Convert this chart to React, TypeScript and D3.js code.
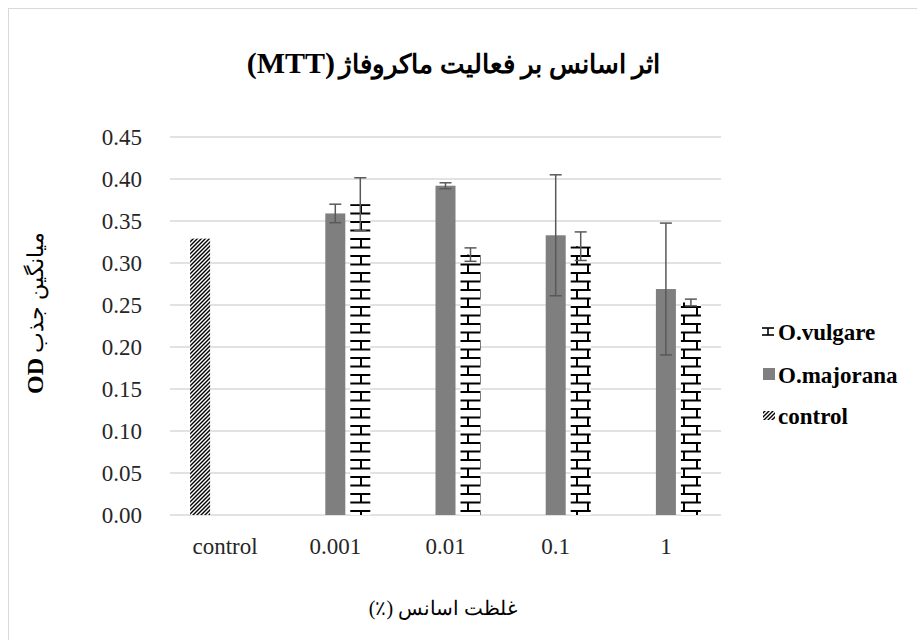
import React from "react";
import * as d3 from "d3";

const categories = ["control", "0.001", "0.01", "0.1", "1"];
const seriesNames = ["control", "O.majorana", "O.vulgare"];
const controlValues = [0.329, 0, 0, 0, 0];
const majoranaValues = [0, 0.359, 0.392, 0.333, 0.269];
const majoranaErrors = [0, 0.011, 0.0035, 0.072, 0.0785];
const vulgareValues = [0, 0.370, 0.310, 0.320, 0.253];
const vulgareErrors = [0, 0.0315, 0.008, 0.017, 0.004];
const yTicks = [0, 0.05, 0.1, 0.15, 0.2, 0.25, 0.3, 0.35, 0.4, 0.45];
const legendItems = ["O.vulgare", "O.majorana", "control"];

const W = 917;
const H = 640;
const plotLeft = 170;
const plotRight = 721;
const plotTop = 137;
const plotBottom = 515;
const serif = "'Liberation Serif', 'Times New Roman', serif";

export default function App() {
  const x = d3.scaleBand<string>().domain(categories).range([plotLeft, plotRight]).paddingInner(0).paddingOuter(0);
  const groupW = 75;
  const inner = d3
    .scaleBand<string>()
    .domain(seriesNames)
    .range([-groupW / 2, groupW / 2])
    .paddingInner(0.2)
    .paddingOuter(0.1);
  const y = d3.scaleLinear().domain([0, 0.45]).range([plotBottom, plotTop]);
  const fmt = d3.format(".2f");
  const bw = inner.bandwidth();

  const fills: Record<string, string> = {
    control: "url(#hatch)",
    "O.majorana": "#7f7f7f",
    "O.vulgare": "url(#brick)",
  };
  const valuesBy: Record<string, number[]> = {
    control: controlValues,
    "O.majorana": majoranaValues,
    "O.vulgare": vulgareValues,
  };
  const errorsBy: Record<string, number[] | null> = {
    control: null,
    "O.majorana": majoranaErrors,
    "O.vulgare": vulgareErrors,
  };

  const cx = (c: string) => (x(c) as number) + x.bandwidth() / 2;

  return (
    <svg width={W} height={H} style={{ position: "absolute", left: 0, top: 0, background: "#fff" }}>
      <defs>
        <pattern id="brick" patternUnits="userSpaceOnUse" width={24} height={17}>
          <rect width={24} height={17} fill="#fff" />
          <line x1={0} y1={1} x2={24} y2={1} stroke="#000" strokeWidth={2} />
          <line x1={0} y1={9.5} x2={24} y2={9.5} stroke="#000" strokeWidth={2} />
          <line x1={1} y1={1} x2={1} y2={9.5} stroke="#000" strokeWidth={2} />
          <line x1={12} y1={9.5} x2={12} y2={17} stroke="#000" strokeWidth={2} />
        </pattern>
        <pattern id="hatch" patternUnits="userSpaceOnUse" width={4} height={4}>
          <rect width={4} height={4} fill="#fff" />
          <path d="M-1,1 L1,-1 M0,4 L4,0 M3,5 L5,3" stroke="#000" strokeWidth={1.4} />
        </pattern>
        <pattern id="brickLegend" patternUnits="userSpaceOnUse" width={12} height={10} x={762} y={327}>
          <rect width={12} height={10} fill="#fff" />
          <line x1={0} y1={1} x2={12} y2={1} stroke="#000" strokeWidth={1.6} />
          <line x1={0} y1={8} x2={12} y2={8} stroke="#000" strokeWidth={1.6} />
          <line x1={6} y1={1} x2={6} y2={8} stroke="#000" strokeWidth={1.6} />
        </pattern>
      </defs>

      <rect x={8.5} y={8.5} width={W + 20} height={H + 20} fill="#fff" stroke="#d9d9d9" strokeWidth={1} />

      {/* Title */}
      <text x={660} y={73} textAnchor="start" direction="rtl" fontFamily={serif} fontWeight="bold" fontSize={26} fill="#000">
        اثر اسانس بر فعالیت ماکروفاژ
      </text>
      <text x={335} y={73} textAnchor="end" fontFamily={serif} fontWeight="bold" fontSize={30} fill="#000">
        (MTT)
      </text>

      {/* gridlines */}
      {yTicks.map((t) => (
        <g key={t}>
          <line x1={plotLeft} x2={plotRight} y1={y(t)} y2={y(t)} stroke="#d9d9d9" strokeWidth={1.5} />
          <text x={142} y={y(t)} dy="0.35em" textAnchor="end" fontFamily={serif} fontSize={23} fill="#262626">
            {fmt(t)}
          </text>
        </g>
      ))}

      {/* bars */}
      {seriesNames.map((s) =>
        categories.map((c, i) => {
          const v = valuesBy[s][i];
          if (!v) return null;
          const bx = cx(c) + (inner(s) as number);
          return <rect key={s + c} x={bx} y={y(v)} width={bw} height={y(0) - y(v)} fill={fills[s]} />;
        })
      )}

      {/* error bars */}
      {seriesNames.map((s) => {
        const errs = errorsBy[s];
        if (!errs) return null;
        return categories.map((c, i) => {
          const v = valuesBy[s][i];
          const e = errs[i];
          if (!v || !e) return null;
          const ex = cx(c) + (inner(s) as number) + bw / 2;
          const capW = 6;
          return (
            <g key={"e" + s + c} stroke="#595959" strokeWidth={1.5}>
              <line x1={ex} x2={ex} y1={y(v + e)} y2={y(v - e)} />
              <line x1={ex - capW} x2={ex + capW} y1={y(v + e)} y2={y(v + e)} />
              <line x1={ex - capW} x2={ex + capW} y1={y(v - e)} y2={y(v - e)} />
            </g>
          );
        });
      })}

      {/* x tick labels */}
      {categories.map((c) => (
        <text key={"xl" + c} x={cx(c)} y={554} textAnchor="middle" fontFamily={serif} fontSize={23} fill="#262626">
          {c}
        </text>
      ))}

      {/* x axis title */}
      <text x={443} y={615} textAnchor="middle" direction="rtl" fontFamily={serif} fontSize={20} fill="#000">
        غلظت اسانس (٪)
      </text>

      {/* y axis title */}
      <text
        transform="translate(43,313) rotate(-90)"
        textAnchor="middle"
        direction="rtl"
        fontFamily={serif}
        fontSize={22}
        fill="#000"
      >
        میانگین جذب <tspan fontWeight="bold" fontSize={24}>OD</tspan>
      </text>

      {/* legend */}
      {legendItems.map((name, i) => {
        const ly = [332, 375, 416][i];
        return (
          <g key={"lg" + name}>
            {name === "O.vulgare" && <rect x={762} y={ly - 6} width={12} height={10} fill="url(#brickLegend)" />}
            {name === "O.majorana" && <rect x={763} y={ly - 7} width={12} height={12} fill="#7f7f7f" />}
            {name === "control" && <rect x={763} y={ly - 5} width={12} height={9} fill="url(#hatch)" />}
            <text x={778} y={ly} dy="0.35em" fontFamily={serif} fontWeight="bold" fontSize={23} fill="#000">
              {name}
            </text>
          </g>
        );
      })}
    </svg>
  );
}
